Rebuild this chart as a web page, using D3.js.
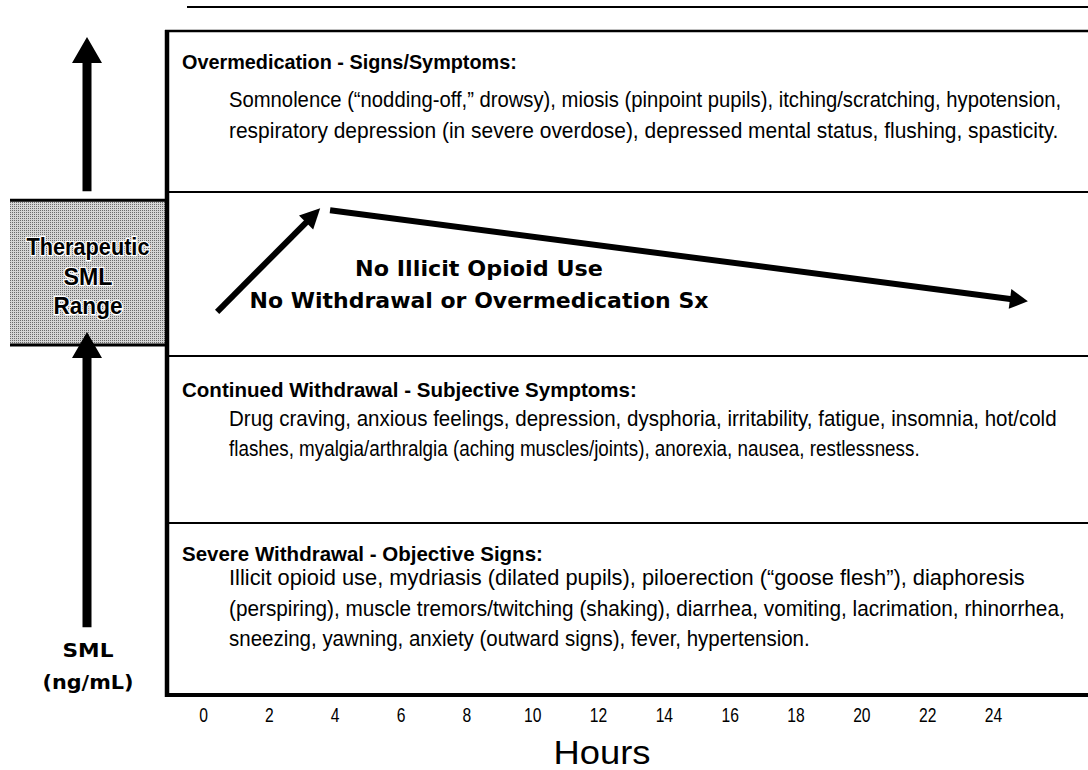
<!DOCTYPE html>
<html>
<head>
<meta charset="utf-8">
<script src="https://cdn.jsdelivr.net/npm/d3@7"></script>
<style>
body { margin: 0; background: #fff; }
</style>
</head>
<body>
<div id="chart"></div>
<script>
// ---- data ----
// hours shown on the x axis
var hourTicks = [0, 2, 4, 6, 8, 10, 12, 14, 16, 18, 20, 22, 24];

// SML zones (arbitrary 0-100 units, bottom to top)
var zoneLow  = [0, 25.9, 51.05, 75.75];
var zoneHigh = [25.9, 51.05, 75.75, 100];
var zoneTitles = [
  "Severe Withdrawal - Objective Signs:",
  "Continued Withdrawal - Subjective Symptoms:",
  "",
  "Overmedication - Signs/Symptoms:"
];
var zoneText = [
  ["Illicit opioid use, mydriasis (dilated pupils), piloerection (\u201Cgoose flesh\u201D), diaphoresis",
   "(perspiring), muscle tremors/twitching (shaking), diarrhea, vomiting, lacrimation, rhinorrhea,",
   "sneezing, yawning, anxiety (outward signs), fever, hypertension."],
  ["Drug craving, anxious feelings, depression, dysphoria, irritability, fatigue, insomnia, hot/cold",
   "flashes, myalgia/arthralgia (aching muscles/joints), anorexia, nausea, restlessness."],
  [],
  ["Somnolence (\u201Cnodding-off,\u201D drowsy), miosis (pinpoint pupils), itching/scratching, hypotension,",
   "respiratory depression (in severe overdose), depressed mental status, flushing, spasticity."]
];

// therapeutic SML range
var therapeuticRange = [52.7, 74.5];
var therapeuticLabel = ["Therapeutic", "SML", "Range"];

// SML level after a dose: rise, then slow decline
var riseHours = [0.43, 3.56];
var riseSml = [57.7, 73.3];
var fallHours = [3.86, 25.06];
var fallSml = [73.0, 59.3];

var centerLabel = ["No Illicit Opioid Use", "No Withdrawal or Overmedication Sx"];
var yLabel = ["SML", "(ng/mL)"];
var xLabel = "Hours";

// ---- layout ----
var svgWidth = 1088, svgHeight = 770;
var panelLeft = 167, panelRight = 1088;
var narrow = "'Liberation Sans Narrow', 'Arial Narrow', 'Liberation Sans', Arial, sans-serif";
var heavy = "'DejaVu Sans', 'Liberation Sans', Arial, sans-serif";

// title / body baselines relative to zone top, and fitted text widths
var titleOffset = [37.5, 41, 0, 37.5];
var bodyOffset = [62, 69.5, 0, 76];
var lineGap = 30.5;
var titleWidth = [361, 455, 0, 335];
var bodyWidth = [[796, 836, 581], [828, 691], [], [833, 830]];
var therapeuticWidth = [123, 49, 69];
var centerWidth = [248, 459];
var yLabelWidth = [51, 91];

// squeeze a text horizontally so that it spans the given width
function fitWidth(sel, widthFn) {
  sel.each(function(d, i) {
    var t = d3.select(this);
    var x = +t.attr("x"), y = +t.attr("y");
    var w = this.getComputedTextLength();
    var s = widthFn(d, i) / w;
    t.attr("x", 0).attr("y", 0)
      .attr("transform", `translate(${x},${y}) scale(${s},1)`);
  });
}

var svg = d3.select("#chart")
  .append("svg")
  .attr("width", svgWidth)
  .attr("height", svgHeight);

var xScale = d3.scaleLinear().domain([0, 24]).range([203, 993]);
var yScale = d3.scaleLinear().domain([0, 100]).range([695, 31]);

// stipple pattern for the therapeutic box
var defs = svg.append("defs");
var pat = defs.append("pattern")
  .attr("id", "stipple")
  .attr("width", 2).attr("height", 2)
  .attr("patternUnits", "userSpaceOnUse");
pat.append("rect").attr("width", 2).attr("height", 2).attr("fill", "#d4d4d4");
pat.append("rect").attr("width", 1).attr("height", 1).attr("fill", "#6a6a6a");

// line across the very top
svg.append("line")
  .attr("x1", 187).attr("x2", svgWidth)
  .attr("y1", 7).attr("y2", 7)
  .attr("stroke", "#000").attr("stroke-width", 2);

// therapeutic box
svg.append("rect")
  .attr("x", 10)
  .attr("y", yScale(therapeuticRange[1]))
  .attr("width", panelLeft - 10)
  .attr("height", yScale(therapeuticRange[0]) - yScale(therapeuticRange[1]))
  .attr("fill", "url(#stipple)");

therapeuticRange.forEach(function(v) {
  svg.append("line")
    .attr("x1", 10).attr("x2", panelLeft)
    .attr("y1", yScale(v)).attr("y2", yScale(v))
    .attr("stroke", "#000").attr("stroke-width", 3);
});

var tMid = (yScale(therapeuticRange[0]) + yScale(therapeuticRange[1])) / 2;
var tLabels = svg.append("g").selectAll("text")
  .data(therapeuticLabel)
  .enter()
  .append("text")
  .attr("x", 88)
  .attr("y", (d, i) => tMid + 12 + (i - 1) * 29.5)
  .attr("text-anchor", "middle")
  .attr("font-family", narrow)
  .attr("font-weight", "bold")
  .attr("font-size", "24px")
  .attr("fill", "#000")
  .attr("stroke", "#fff")
  .attr("stroke-width", 2.5)
  .attr("paint-order", "stroke")
  .text(d => d);
fitWidth(tLabels, (d, i) => therapeuticWidth[i]);

// vertical arrows beside the box
function upArrow(x, yTip, yBase) {
  var hw = 15, hl = 26, sw = 4.5;
  var pts = [[x, yTip], [x + hw, yTip + hl], [x + sw, yTip + hl], [x + sw, yBase],
             [x - sw, yBase], [x - sw, yTip + hl], [x - hw, yTip + hl]];
  svg.append("path")
    .attr("d", d3.line()(pts) + "Z")
    .attr("fill", "#000");
}
upArrow(87, yScale(99.1), yScale(therapeuticRange[1]) - 9);
upArrow(87, yScale(therapeuticRange[0]) - 13, yScale(10.2));

// y label
var yLab = svg.append("g").selectAll("text")
  .data(yLabel)
  .enter()
  .append("text")
  .attr("x", 88)
  .attr("y", (d, i) => 657 + i * 32)
  .attr("text-anchor", "middle")
  .attr("font-family", heavy)
  .attr("font-weight", "bold")
  .attr("font-size", "20px")
  .attr("fill", "#000")
  .text(d => d);
fitWidth(yLab, (d, i) => yLabelWidth[i]);

// zone separators
svg.append("g").selectAll("line")
  .data(zoneLow.slice(1))
  .enter()
  .append("line")
  .attr("x1", panelLeft).attr("x2", panelRight)
  .attr("y1", d => yScale(d)).attr("y2", d => yScale(d))
  .attr("stroke", "#000").attr("stroke-width", 2);

// panel top
svg.append("line")
  .attr("x1", panelLeft - 2).attr("x2", panelRight)
  .attr("y1", yScale(100)).attr("y2", yScale(100))
  .attr("stroke", "#000").attr("stroke-width", 2.5);

// zone titles and symptom text
zoneTitles.forEach(function(t, i) {
  if (!t) return;
  var top = yScale(zoneHigh[i]);
  var title = svg.append("text")
    .attr("x", 182)
    .attr("y", top + titleOffset[i])
    .attr("font-family", narrow)
    .attr("font-weight", "bold")
    .attr("font-size", "19.5px")
    .attr("fill", "#000")
    .text(t);
  fitWidth(title, () => titleWidth[i]);
  var body = svg.append("g").selectAll("text")
    .data(zoneText[i])
    .enter()
    .append("text")
    .attr("x", 229)
    .attr("y", (d, j) => top + bodyOffset[i] + j * lineGap)
    .attr("font-family", narrow)
    .attr("font-size", "22px")
    .attr("fill", "#000")
    .text(d => d);
  fitWidth(body, (d, j) => bodyWidth[i][j]);
});

// SML level arrows
function levelArrow(hours, sml, headLen, headHalf) {
  var x0 = xScale(hours[0]), y0 = yScale(sml[0]);
  var x1 = xScale(hours[1]), y1 = yScale(sml[1]);
  var a = Math.atan2(y1 - y0, x1 - x0);
  var bx = x1 - headLen * Math.cos(a), by = y1 - headLen * Math.sin(a);
  svg.append("line")
    .attr("x1", x0).attr("y1", y0)
    .attr("x2", bx + 2 * Math.cos(a)).attr("y2", by + 2 * Math.sin(a))
    .attr("stroke", "#000").attr("stroke-width", 6);
  var px = -Math.sin(a), py = Math.cos(a);
  svg.append("path")
    .attr("d", d3.line()([[x1, y1], [bx + px * headHalf, by + py * headHalf], [bx - px * headHalf, by - py * headHalf]]) + "Z")
    .attr("fill", "#000");
}
levelArrow(riseHours, riseSml, 20, 10);
levelArrow(fallHours, fallSml, 18, 10);

// center annotation
var cLab = svg.append("g").selectAll("text")
  .data(centerLabel)
  .enter()
  .append("text")
  .attr("x", 479)
  .attr("y", (d, i) => 276 + i * 32)
  .attr("text-anchor", "middle")
  .attr("font-family", heavy)
  .attr("font-weight", "bold")
  .attr("font-size", "21px")
  .attr("fill", "#000")
  .text(d => d);
fitWidth(cLab, (d, i) => centerWidth[i]);

// x axis
var bottomAxis = d3.axisBottom(xScale)
  .tickValues(hourTicks)
  .tickSize(0)
  .tickPadding(13);

var axisG = svg.append("g")
  .attr("transform", `translate(0, ${yScale(0)})`)
  .call(bottomAxis);
axisG.select(".domain").remove();
axisG.selectAll("text")
  .attr("font-family", narrow)
  .attr("font-size", "20px")
  .attr("textLength", d => String(d).length * 8.7)
  .attr("lengthAdjust", "spacingAndGlyphs")
  .attr("fill", "#000");

// panel bottom and left border
svg.append("line")
  .attr("x1", panelLeft - 2).attr("x2", panelRight)
  .attr("y1", yScale(0)).attr("y2", yScale(0))
  .attr("stroke", "#000").attr("stroke-width", 4);
svg.append("line")
  .attr("x1", panelLeft).attr("x2", panelLeft)
  .attr("y1", yScale(100) - 1).attr("y2", yScale(0) + 2)
  .attr("stroke", "#000").attr("stroke-width", 4.5);

// x label
var xLab = svg.append("text")
  .attr("x", 602)
  .attr("y", 764)
  .attr("text-anchor", "middle")
  .attr("font-family", "'Liberation Sans', Arial, sans-serif")
  .attr("font-size", "34px")
  .attr("fill", "#000")
  .text(xLabel);
fitWidth(xLab, () => 97);
</script>
</body>
</html>
